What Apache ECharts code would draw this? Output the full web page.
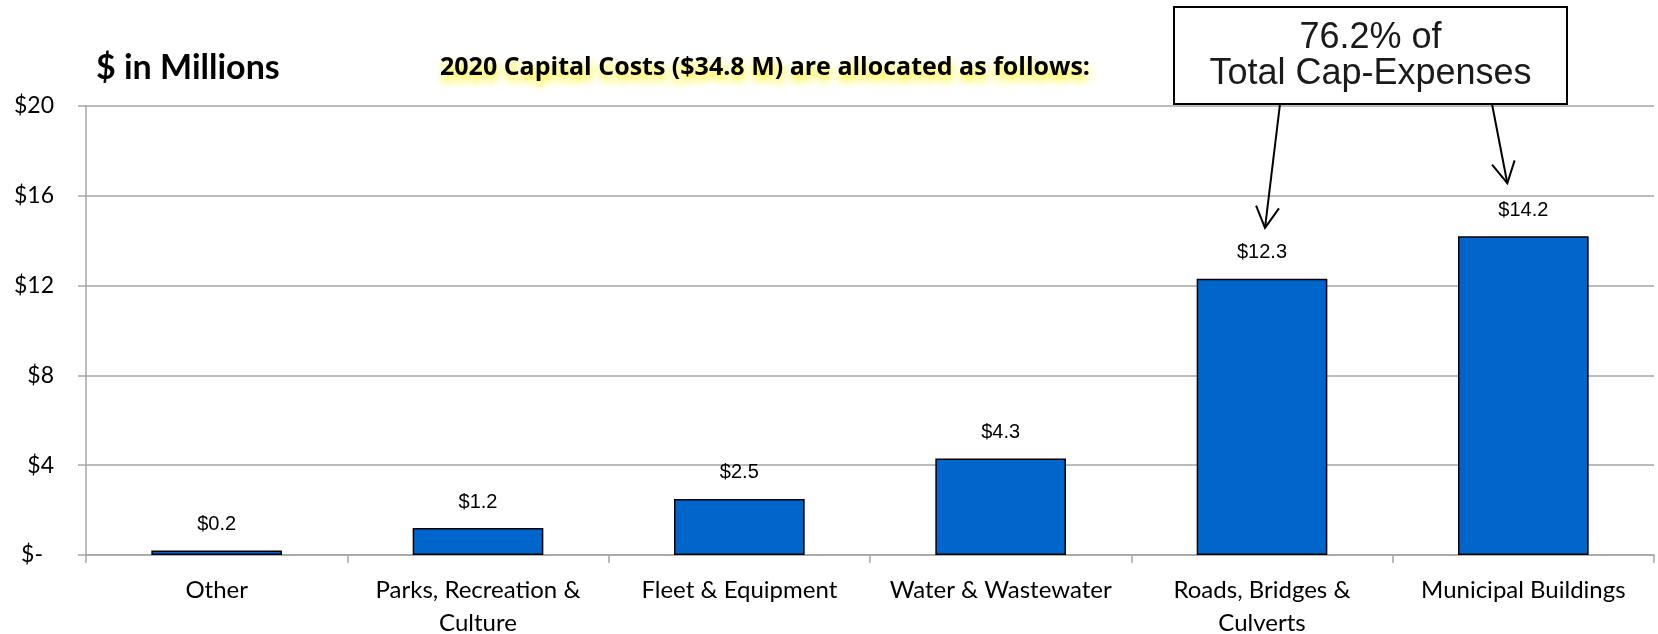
<!DOCTYPE html>
<html>
<head>
<meta charset="utf-8">
<script src="https://cdn.jsdelivr.net/npm/echarts@6/dist/echarts.min.js"></script>
<style>
html,body{margin:0;padding:0;background:#fff;}
#chart{width:1658px;height:634px;}
</style>
</head>
<body>
<div id="chart"></div>
<script>
// ---- data ----
const categories = ['Other', 'Parks, Recreation &\nCulture', 'Fleet & Equipment', 'Water & Wastewater', 'Roads, Bridges &\nCulverts', 'Municipal Buildings'];
const values = [0.2, 1.2, 2.5, 4.3, 12.3, 14.2];
const yTicks = [0, 4, 8, 12, 16, 20];
const titleText = '$ in Millions';
const subtitleText = '2020 Capital Costs ($34.8 M) are allocated as follows:';
const noteLines = ['76.2% of', 'Total Cap-Expenses'];
const noteTargets = [4, 5]; // indexes of categories the note points to

const chart = echarts.init(document.getElementById('chart'), null, {renderer: 'canvas'});
const gray = '#a6a6a6';

const option = {
  animation: false,
  backgroundColor: '#ffffff',
  title: [
    {text: titleText, left: 91, top: 46,
     textStyle: {fontFamily: 'Lato', fontWeight: 'bold', fontSize: 34, lineHeight: 34, color: '#000'}},
    {text: subtitleText, left: 760, textAlign: 'center', top: 50,
     textStyle: {fontFamily: 'Open Sans', fontWeight: 'bold', fontSize: 25, lineHeight: 25, color: '#000',
       textShadowColor: 'rgba(255,240,0,1)', textShadowBlur: 9, textShadowOffsetX: 1, textShadowOffsetY: 6}}
  ],
  grid: {left: 86, right: 4, top: 106, bottom: 79, containLabel: false, outerBoundsMode: 'none'},
  xAxis: {
    type: 'category',
    data: categories,
    axisLine: {show: true, lineStyle: {color: gray, width: 1.5}},
    axisTick: {show: true, length: 8, lineStyle: {color: gray, width: 1.5}},
    axisLabel: {fontFamily: 'Lato', fontSize: 24, lineHeight: 33, color: '#000', margin: 19, interval: 0}
  },
  yAxis: {
    type: 'value',
    min: yTicks[0], max: yTicks[yTicks.length - 1], interval: yTicks[1] - yTicks[0],
    axisLine: {show: true, lineStyle: {color: gray, width: 1.5}},
    axisTick: {show: true, length: 8, lineStyle: {color: gray, width: 1.5}},
    splitLine: {show: true, lineStyle: {color: gray, width: 1.5}},
    axisLabel: {
      fontFamily: 'Lato', fontSize: 23, color: '#000', margin: 32,
      formatter: v => v === 0 ? '{z|$-}' : '$' + v,
      rich: {z: {fontFamily: 'Lato', fontSize: 23, color: '#000', padding: [0, 11, 0, 0]}}
    }
  },
  series: [{
    type: 'bar',
    data: values,
    barWidth: '50%',
    itemStyle: {color: '#0066CC', borderColor: '#000', borderWidth: 1.5},
    label: {
      show: true, position: 'top', distance: 16,
      fontFamily: 'Liberation Sans', fontSize: 20, color: '#000',
      formatter: p => '$' + p.value.toFixed(1)
    }
  }]
};
chart.setOption(option);

// ---- annotation box & arrows (anchored to bars through the axes) ----
function arrow(x1, y1, x2, y2) {
  const ang = Math.atan2(y2 - y1, x2 - x1);
  const L = 24, spread = 0.5;
  const a1 = [x2 - L * Math.cos(ang - spread), y2 - L * Math.sin(ang - spread)];
  const a2 = [x2 - L * Math.cos(ang + spread), y2 - L * Math.sin(ang + spread)];
  return [
    {type: 'line', shape: {x1, y1, x2, y2}, style: {stroke: '#000', lineWidth: 2}, z: 100},
    {type: 'polyline', shape: {points: [a1, [x2, y2], a2]}, style: {stroke: '#000', lineWidth: 2, fill: null}, z: 100}
  ];
}
const boxLeft = 1174, boxTop = 7, boxW = 393, boxH = 97;
const p0 = chart.convertToPixel({seriesIndex: 0}, [noteTargets[0], values[noteTargets[0]]]);
const p1 = chart.convertToPixel({seriesIndex: 0}, [noteTargets[1], values[noteTargets[1]]]);
const elements = [
  {type: 'rect', shape: {x: boxLeft, y: boxTop, width: boxW, height: boxH},
   style: {fill: '#fff', stroke: '#000', lineWidth: 2}, z: 99},
  {type: 'text', x: boxLeft + boxW / 2, y: 38, z: 101,
   style: {text: noteLines[0], fontFamily: 'Liberation Sans', fontSize: 36, fill: '#1a1a1a', align: 'center', verticalAlign: 'middle'}},
  {type: 'text', x: boxLeft + boxW / 2, y: 74, z: 101,
   style: {text: noteLines[1], fontFamily: 'Liberation Sans', fontSize: 36, fill: '#1a1a1a', align: 'center', verticalAlign: 'middle'}}
].concat(
  arrow(1280, boxTop + boxH, p0[0] + 3, p0[1] - 51),
  arrow(1492, boxTop + boxH, p1[0] - 16, p1[1] - 53)
);
chart.setOption({graphic: {elements}});
</script>
</body>
</html>
